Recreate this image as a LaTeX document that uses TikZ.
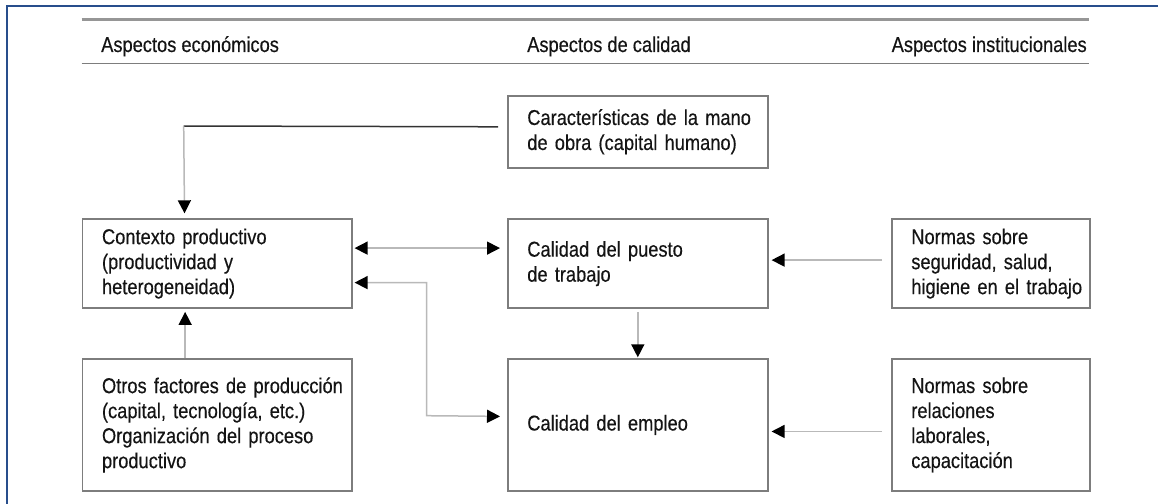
\documentclass[tikz,border=0pt]{standalone}
\usepackage{fontspec}
\newfontfamily\diagfont{Liberation Sans}[FakeStretch=0.85,FakeBold=0.35]
\usetikzlibrary{arrows.meta}
\definecolor{frameblue}{RGB}{40,78,140}
\definecolor{boxgray}{RGB}{125,125,125}
\definecolor{linkgray}{RGB}{185,185,185}
\definecolor{rulegray}{RGB}{150,150,150}
\definecolor{textblack}{RGB}{20,20,20}
\begin{document}
\begin{tikzpicture}[x=1pt, y=-1pt,
  >={Triangle[length=13pt,width=13pt,color=black]},
  box/.style={draw=boxgray, line width=1.6pt, anchor=north west, align=left,
    inner xsep=19.5pt, inner ysep=0pt, text=textblack,
    font=\diagfont\fontsize{21.5pt}{25pt}\selectfont},
  head/.style={anchor=base west, inner sep=0pt, text=textblack,
    font=\diagfont\fontsize{21.5pt}{25pt}\selectfont},
  link/.style={draw=linkgray, line width=1.5pt}]
\useasboundingbox (0,0) rectangle (1158,503);
\draw[frameblue, line width=2.5pt] (7,510) -- (7,6) -- (1165,6);
\draw[rulegray, line width=3pt] (81.7,19.5) -- (1089,19.5);
\draw[boxgray, line width=1.4pt] (81.7,63.3) -- (1089,63.3);
\node[head] (hdreco) at (101,52) {Aspectos económicos};
\node[head] (hdrcal) at (527,52) {Aspectos de calidad};
\node[head] (hdrins) at (891.5,52) {Aspectos institucionales};
\node[box, text width=221pt, minimum height=72pt] (caract) at (507,95)
  {\makebox[227pt][s]{Características de la mano}\\de obra (capital humano)};
\node[box, text width=230.3pt, minimum height=89pt] (contexto) at (81.7,218.3)
  {Contexto productivo\\(productividad y\\heterogeneidad)};
\node[box, text width=221pt, minimum height=89pt] (puesto) at (507,218.3)
  {Calidad del puesto\\de trabajo};
\node[box, text width=159pt, minimum height=89pt] (normseg) at (891,218.3)
  {Normas sobre\\seguridad, salud,\\\mbox{higiene en el trabajo}};
\node[box, text width=230.3pt, minimum height=131.7pt] (otros) at (81.7,358.3)
  {\mbox{Otros factores de producción}\\(capital, tecnología, etc.)\\Organización del proceso\\productivo};
\node[box, text width=221pt, minimum height=131.7pt] (empleo) at (507,358.3)
  {Calidad del empleo};
\node[box, text width=159pt, minimum height=131.7pt] (normlab) at (891,358.3)
  {Normas sobre\\relaciones\\laborales,\\capacitación};
\coordinate (caractbend) at (183.7,126);
\coordinate (jointbend) at (426.7,415.7);
\draw[black!80, line width=1.5pt] ([shift={(-9pt,5pt)}]caract.west) -- (caractbend);
\draw[link,->,shorten >=5pt] (caractbend) -- ([xshift=-32.6pt]contexto.north);
\draw[link,<->,shorten <=2pt,shorten >=7pt] ([yshift=15.5pt]contexto.east) -- ([yshift=15.5pt]puesto.west);
\draw[link,<->,shorten <=2pt,shorten >=7pt] ([yshift=-19pt]contexto.east) -| (jointbend) -- ([yshift=8.5pt]empleo.west);
\draw[link,->,shorten >=3pt] ([xshift=-32pt]otros.north) -- ([xshift=-32pt]contexto.south);
\draw[link,->,shorten <=3pt,shorten >=1pt] (puesto) -- (empleo);
\draw[link,->,shorten <=9pt,shorten >=3pt] ([yshift=3.5pt]normseg.west) -- ([yshift=3.5pt]puesto.east);
\draw[link,->,shorten <=9pt,shorten >=3pt] ([yshift=-6.5pt]normlab.west) -- ([yshift=-6.5pt]empleo.east);
\end{tikzpicture}
\end{document}
